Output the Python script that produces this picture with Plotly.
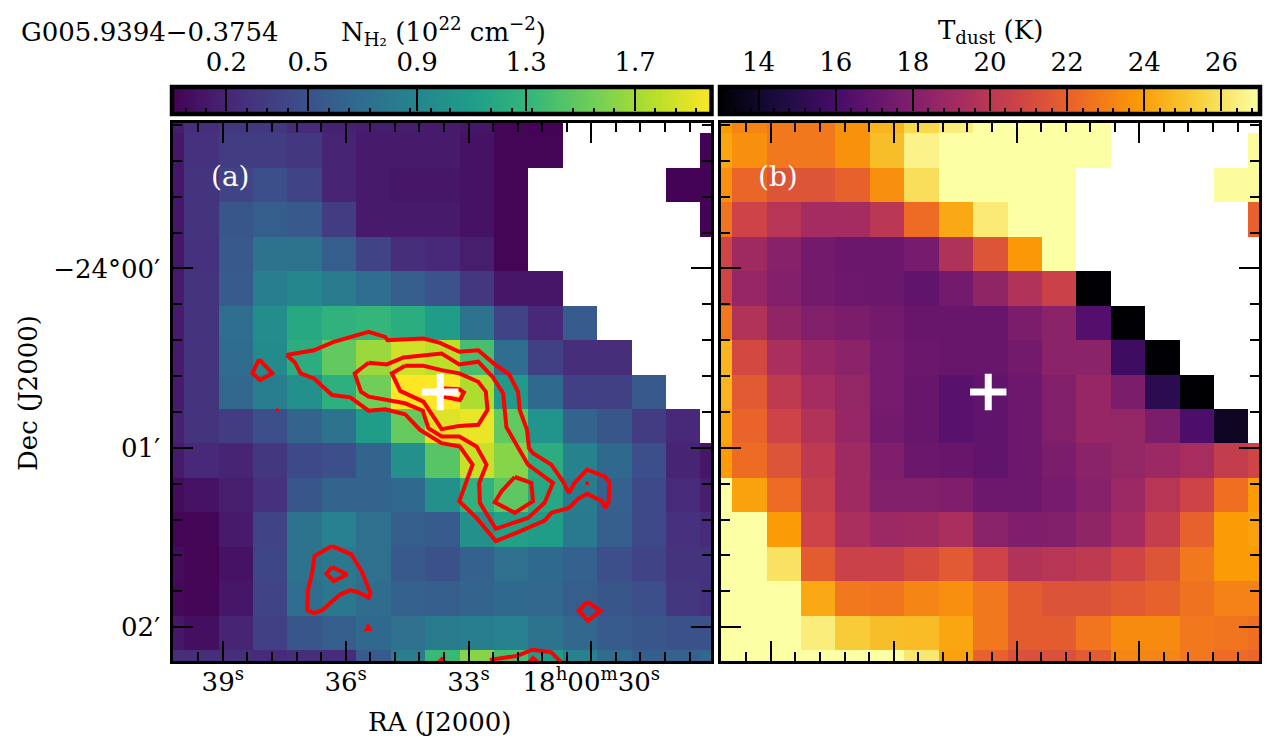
import numpy as np
import plotly.graph_objects as go

N = None
FONT = "DejaVu Serif"
W, H = 1274, 753

# ---- data -----
ra_centres = [40.362, 39.521, 38.680, 37.840, 36.999, 36.159, 35.318, 34.478, 33.637,
              32.797, 31.956, 31.115, 30.275, 29.434, 28.594, 27.753, 26.913]
dec_centres = [-0.850, -0.658, -0.466, -0.274, -0.081, 0.111, 0.303, 0.495, 0.688,
               0.880, 1.072, 1.264, 1.457, 1.649, 1.841, 2.033, 2.226]

column_density = [
 [.16,.26,.32,.32,.24,.18,.16,.16,.14,.12,.02,.01,N,N,N,N,N],
 [.12,.28,.36,.36,.32,.20,.14,.14,.14,.10,.02,.02,N,N,N,N,.01],
 [.12,.30,.40,.48,.40,.20,.14,.12,.12,.10,.02,N,N,N,N,.01,.01],
 [.12,.30,.53,.59,.55,.36,.14,.14,.14,.10,.02,N,N,N,N,N,.01],
 [.12,.28,.55,.75,.75,.59,.40,.26,.22,.16,.02,N,N,N,N,N,N],
 [.14,.30,.57,.85,.91,.83,.71,.59,.51,.32,.12,.12,N,N,N,N,N],
 [.14,.30,.71,.97,1.19,1.27,1.31,1.23,1.09,.75,.40,.22,.57,N,N,N,N],
 [.14,.30,.69,.95,1.23,1.49,1.68,1.84,1.78,1.39,.71,.38,.26,.26,N,N,N],
 [.14,.30,.65,.85,.99,1.25,1.54,1.98,1.98,1.74,1.07,.67,.38,.38,.55,N,N],
 [.18,.30,.36,.48,.63,.75,1.09,1.50,1.88,1.92,1.49,1.03,.63,.53,.36,.22,N],
 [.14,.22,.20,.32,.44,.48,.63,.99,1.45,1.82,1.62,1.23,.89,.67,.48,.20,.12],
 [.06,.10,.16,.28,.53,.63,.63,.67,.99,1.27,1.47,1.19,.83,.61,.44,.24,.16],
 [.02,.02,.14,.40,.75,.87,.73,.59,.57,.99,1.13,1.09,.81,.59,.44,.28,.24],
 [.06,.02,.10,.42,.75,.79,.73,.55,.50,.61,.73,.67,.61,.48,.40,.30,.30],
 [.04,.02,.12,.40,.71,.79,.69,.61,.59,.63,.67,.65,.59,.53,.48,.32,.28],
 [.12,.08,.20,.38,.53,.59,.67,.73,.83,.85,.87,.75,.65,.57,.53,.50,.50],
 [.26,.26,.26,.24,.26,.24,.57,.85,1.33,1.62,1.39,1.09,.87,.69,.59,.61,.65],
]

dust_temperature = [
 [23.9,23.2,22.8,22.8,23.6,24.6,25.7,26.4,27,27,27,27,N,N,N,N,N],
 [24.2,23.5,22.8,22.8,23.6,24.9,26.6,27,27,27,27,27,N,N,N,N,26.9],
 [23.5,22.2,21.5,21.5,22,23.5,25.9,27,27,27,27,N,N,N,N,26.9,26.9],
 [22.7,20.7,19.9,19.2,19.2,20,22.4,24.3,26.3,27,27,N,N,N,N,N,22],
 [20.8,19,18.2,17.5,17.2,17.2,17.6,19.6,21.5,23.8,27,N,N,N,N,N,N],
 [20.8,18.7,18,17.5,17.3,17.2,16.9,17.5,18.5,19.7,20.6,13,N,N,N,N,N],
 [22.8,19.7,18.5,18,17.8,17.5,17.1,17.1,17.1,17.8,18.3,16.4,13,N,N,N,N],
 [24.6,21,19.4,18.7,18.3,17.6,17.2,17.1,17.1,17.5,18.3,18.3,15.7,13,N,N,N],
 [24.6,21.7,20.1,19.2,18.6,17.6,17.1,16.6,16.9,17.3,18,18.7,17.8,15.1,13,N,N],
 [24.2,22.1,20.7,19.7,18.7,17.5,17.1,16.6,16.9,17.3,18,18.7,18.6,17.8,16.2,13.8,N],
 [23.9,22.4,21.5,20.1,19,17.9,17.2,17.1,16.9,17.3,17.8,18.3,18.6,18.9,19.3,20.3,20.8],
 [27,24.1,22.4,20.4,19,18,18,17.9,17.3,17.3,17.6,18.2,18.9,19.9,20.7,22.5,23.9],
 [27,27,23.9,20.7,19.4,18.9,19,19.4,18.3,17.9,18,18.5,19.2,20.4,22,23.9,24.1],
 [27,27,26,21.8,20.6,20.6,21.1,21.7,20.7,19.7,19.9,20.1,20.8,21.5,22.8,23.9,23.9],
 [27,27,27,24.3,22.8,22.7,23.2,23.5,22.8,21.8,21.4,21.4,21.7,22,22.6,23.1,23.1],
 [27,27,27,26.4,25.3,24.9,24.8,24.2,22.8,21.8,21.8,22.7,23.4,23.4,22.8,22.7,22.5],
 [27,27,27,27,27,27,26.2,24.1,22,21.3,21.3,21.8,23.2,23.2,22.8,22.4,22.2],
]

contour_a_ra = [37.443,36.778,36.291,35.440,35.034,34.978,34.102,33.696,33.226,32.763,32.358,32.009,31.790,31.750,31.571,31.523,31.425,30.979,30.695,30.549,30.411,30.103,29.657,29.560,29.576,29.657,29.738,30.103,30.330,30.549,30.979,31.141,31.831,32.334,32.804,33.226,32.901,33.210,33.656,34.183,34.548,35.034,35.440,35.886,36.332,36.778,37.102,37.240]
contour_a_dec = [.483,.456,.409,.354,.382,.400,.391,.415,.465,.456,.535,.591,.687,.789,.900,1.002,1.030,1.094,1.187,1.252,1.196,1.122,1.163,1.196,1.298,1.335,1.298,1.257,1.285,1.335,1.363,1.406,1.474,1.520,1.391,1.298,1.094,.993,.974,.900,.813,.785,.793,.719,.706,.613,.585,.524]
contour_b_ra = [35.440,34.994,34.588,33.656,33.226,32.763,32.415,32.155,32.074,31.547,30.939,31.141,31.547,32.334,32.723,32.739,32.561,32.804,33.226,33.656,33.980,34.118,34.548,35.440,35.626,35.780]
contour_b_dec = [.526,.535,.496,.474,.535,.520,.604,.696,.885,1.094,1.196,1.307,1.391,1.452,1.307,1.196,1.094,.993,.937,.937,.891,.793,.752,.715,.687,.585]
contour_c_ra = [34.548,34.102,33.656,33.226,32.763,32.577,32.536,32.763,33.226,33.656,34.102,34.669,34.872]
contour_c_dec = [.543,.543,.567,.585,.632,.687,.789,.872,.878,.896,.743,.683,.585]
contour_d_ra = [33.696,33.210,33.112,33.226,33.656]
contour_d_dec = [.711,.733,.691,.674,.668]
contour_e_ra = [31.871,31.466,31.425,31.871,32.358,32.196]
contour_e_dec = [1.163,1.196,1.298,1.363,1.304,1.243]
contour_f_ra = [38.116,37.792,38.092,38.278]
contour_f_dec = [.507,.585,.622,.585]
contour_g_ra = [36.331,35.861,35.601,35.399,35.439,35.682,35.885,36.128,36.575,36.777,36.939,36.923,36.818,36.761]
contour_g_dec = [1.548,1.594,1.693,1.807,1.835,1.807,1.794,1.817,1.906,1.922,1.906,1.798,1.696,1.604]
contour_h_ra = [36.331,35.966,36.291,36.469]
contour_h_dec = [1.665,1.706,1.743,1.702]
contour_i_ra = [30.102,29.778,30.086,30.305]
contour_i_dec = [1.859,1.909,1.965,1.909]
closed_contours = [(contour_a_ra, contour_a_dec), (contour_b_ra, contour_b_dec),
                   (contour_c_ra, contour_c_dec), (contour_d_ra, contour_d_dec),
                   (contour_e_ra, contour_e_dec), (contour_f_ra, contour_f_dec),
                   (contour_g_ra, contour_g_dec), (contour_h_ra, contour_h_dec),
                   (contour_i_ra, contour_i_dec)]
# tiny islands
speck_1_ra, speck_1_dec = [37.670, 37.630, 37.711], [.781, .796, .796]
speck_2_ra, speck_2_dec = [30.103, 30.063, 30.144], [1.189, 1.204, 1.204]
speck_3_ra, speck_3_dec = [35.455, 35.374, 35.528], [1.983, 2.017, 2.017]
specks = [(speck_1_ra, speck_1_dec), (speck_2_ra, speck_2_dec), (speck_3_ra, speck_3_dec)]
# contours cut by the lower map edge
edge_1_ra, edge_1_dec = [32.479, 31.789, 31.441, 30.979, 30.735], [2.183, 2.159, 2.126, 2.141, 2.196]
edge_2_ra, edge_2_dec = [31.522, 31.425, 31.303], [2.196, 2.172, 2.196]
edge_3_ra, edge_3_dec = [33.720, 33.655, 33.574], [2.196, 2.180, 2.196]
edges = [(edge_1_ra, edge_1_dec), (edge_2_ra, edge_2_dec), (edge_3_ra, edge_3_dec)]

source_ra, source_dec = [33.69], [0.689]

ra_major = [39, 36, 33, 30]
ra_labels = ["39<sup>s</sup>", "36<sup>s</sup>", "33<sup>s</sup>", "18<sup>h</sup>00<sup>m</sup>30<sup>s</sup>"]
ra_minor = [40.2, 39.6, 38.4, 37.8, 37.2, 36.6, 35.4, 34.8, 34.2, 33.6, 32.4, 31.8, 31.2, 30.6, 29.4, 28.8, 28.2, 27.6]
dec_major = [0, 1, 2]
dec_labels = ["\u221224\u00b000\u2032", "01\u2032", "02\u2032"]
dec_minor = [-.8, -.6, -.4, -.2, .2, .4, .6, .8, 1.2, 1.4, 1.6, 1.8]

n_ticks = [.2, .5, .9, 1.3, 1.7]
n_minor = [.05, .125, .275, .35, .425, .575, .65, .725, .872, .949, 1.022, 1.171, 1.248, 1.322,
           1.472, 1.547, 1.623, 1.774, 1.848, 1.924]
n_range = [0, 1.98]
t_ticks = [14, 16, 18, 20, 22, 24, 26]
t_minor = [13.4, 13.8, 14.4, 14.8, 15.2, 15.6, 16.4, 16.8, 17.2, 17.6, 18.4, 18.8, 19.2, 19.6,
           20.4, 20.8, 21.2, 21.6, 22.4, 22.8, 23.2, 23.6, 24.4, 24.8, 25.2, 25.6, 26.4, 26.8]
t_range = [13, 27]
ra_range = [40.217, 27.078]
dec_range = [2.189, -0.811]

RED = "#ff0000"
fig = go.Figure()

def px_x(a, b):
    return [a / W, b / W]

def px_y(top, bottom):
    return [1 - bottom / H, 1 - top / H]

# maps
fig.add_trace(go.Heatmap(x=ra_centres, y=dec_centres, z=column_density, colorscale="Viridis",
                         zmin=n_range[0], zmax=n_range[1], showscale=False, xaxis="x", yaxis="y",
                         hoverongaps=False))
fig.add_trace(go.Heatmap(x=ra_centres, y=dec_centres, z=dust_temperature, colorscale="Inferno",
                         zmin=t_range[0], zmax=t_range[1], showscale=False, xaxis="x2", yaxis="y2",
                         hoverongaps=False))

for ra, dec in closed_contours:
    fig.add_trace(go.Scatter(x=ra + ra[:1], y=dec + dec[:1], mode="lines", xaxis="x", yaxis="y",
                             line=dict(color=RED, width=4), showlegend=False))
for ra, dec in specks:
    fig.add_trace(go.Scatter(x=ra + ra[:1], y=dec + dec[:1], mode="lines", fill="toself", fillcolor=RED,
                             xaxis="x", yaxis="y", line=dict(color=RED, width=1.5), showlegend=False))
for ra, dec in edges:
    fig.add_trace(go.Scatter(x=ra, y=dec, mode="lines", xaxis="x", yaxis="y",
                             line=dict(color=RED, width=4), showlegend=False))

for xa, ya in (("x", "y"), ("x2", "y2")):
    fig.add_trace(go.Scatter(x=source_ra, y=source_dec, mode="markers", xaxis=xa, yaxis=ya, showlegend=False,
                             marker=dict(symbol="cross-thin", size=26, line=dict(color="white", width=7))))

# colour bars (ramp over each map's own range)
ramp_n = np.linspace(n_range[0], n_range[1], 256)
ramp_t = np.linspace(t_range[0], t_range[1], 256)
fig.add_trace(go.Heatmap(x=ramp_n, y=[0, 1], z=[ramp_n, ramp_n], colorscale="Viridis", zmin=n_range[0], zmax=n_range[1],
                         showscale=False, xaxis="x3", yaxis="y3"))
fig.add_trace(go.Heatmap(x=ramp_t, y=[0, 1], z=[ramp_t, ramp_t], colorscale="Inferno", zmin=t_range[0], zmax=t_range[1],
                         showscale=False, xaxis="x4", yaxis="y4"))
fig.add_trace(go.Scatter(x=n_range, y=[0, 0], mode="lines", line=dict(width=0), xaxis="x5", yaxis="y3", showlegend=False))
fig.add_trace(go.Scatter(x=t_range, y=[0, 0], mode="lines", line=dict(width=0), xaxis="x6", yaxis="y4", showlegend=False))

FS = 26
font = dict(family=FONT, size=FS, color="black")


def map_x(domain, anchor, labels):
    return dict(domain=domain, anchor=anchor, range=ra_range, showgrid=False, zeroline=False,
                showline=True, linewidth=2.5, linecolor="black", mirror="ticks",
                ticks="inside", ticklen=20, tickwidth=2, tickcolor="black",
                tickvals=ra_major, ticktext=ra_labels, showticklabels=labels, tickfont=font,
                ticklabelstandoff=-4, tickangle=0,
                minor=dict(ticks="inside", ticklen=9, tickwidth=2, tickcolor="black", tickvals=ra_minor, showgrid=False))


def map_y(domain, anchor, labels):
    return dict(domain=domain, anchor=anchor, range=dec_range, showgrid=False, zeroline=False,
                showline=True, linewidth=2.5, linecolor="black", mirror="ticks",
                ticks="inside", ticklen=20, tickwidth=2, tickcolor="black",
                tickvals=dec_major, ticktext=dec_labels, showticklabels=labels, tickfont=font,
                ticklabelstandoff=5,
                minor=dict(ticks="inside", ticklen=9, tickwidth=2, tickcolor="black", tickvals=dec_minor, showgrid=False))


def bar_top(domain, anchor, rng, ticks):
    return dict(domain=domain, anchor=anchor, range=rng, side="top", showgrid=False, zeroline=False,
                showline=False, ticks="inside", ticklen=24, tickwidth=1.5, tickcolor="black",
                tickvals=ticks, ticktext=[str(t) for t in ticks], tickfont=font, ticklabelstandoff=10, tickangle=0)


def bar_bottom(over, anchor, rng, ticks):
    return dict(overlaying=over, anchor=anchor, range=rng, side="bottom", showgrid=False, zeroline=False,
                showline=False, ticks="inside", ticklen=6, tickwidth=2, tickcolor="black",
                tickvals=ticks, showticklabels=False)


fig.update_layout(
    width=W, height=H, margin=dict(l=0, r=0, t=0, b=0), paper_bgcolor="white", plot_bgcolor="white",
    showlegend=False, font=font,
    xaxis=map_x(px_x(173, 711), "y", True),
    yaxis=map_y(px_y(123, 661), "x", True),
    xaxis2=map_x(px_x(721, 1259), "y2", False),
    yaxis2=map_y(px_y(123, 661), "x2", False),
    xaxis3=bar_top(px_x(172, 711.5), "y3", n_range, n_ticks),
    yaxis3=dict(domain=px_y(87, 114), anchor="x3", range=[0, 1], showgrid=False, zeroline=False, showticklabels=False, ticks=""),
    xaxis4=bar_top(px_x(720, 1260), "y4", t_range, t_ticks),
    yaxis4=dict(domain=px_y(87, 114), anchor="x4", range=[0, 1], showgrid=False, zeroline=False, showticklabels=False, ticks=""),
    xaxis5=bar_bottom("x3", "y3", n_range, n_minor),
    xaxis6=bar_bottom("x4", "y4", t_range, t_minor),
)

for n in ("3", "4"):
    fig.add_shape(type="rect", xref=f"x{n} domain", yref=f"y{n} domain", x0=0, x1=1, y0=0, y1=1,
                  line=dict(color="black", width=4.5), layer="above")


def note(x, y, text, size=FS, color="black", xanchor="center", angle=0):
    fig.add_annotation(x=x / W, y=1 - y / H, xref="paper", yref="paper", text=text, showarrow=False,
                       xanchor=xanchor, yanchor="middle", textangle=angle,
                       font=dict(family=FONT, size=size, color=color))


note(19, 32, "G005.9394\u22120.3754", xanchor="left")
note(443, 32, "N<sub>H\u2082</sub> (10<sup>22</sup> cm<sup>\u22122</sup>)")
note(990, 32, "T<sub>dust</sub> (K)")
note(230, 176, "(a)", color="white", size=28)
note(778, 176, "(b)", color="white", size=28)
note(440, 722, "RA (J2000)")
note(28, 393, "Dec (J2000)", angle=-90)

fig.write_html("out.html", post_script="document.body.style.margin='0';", config={"displayModeBar": False})
